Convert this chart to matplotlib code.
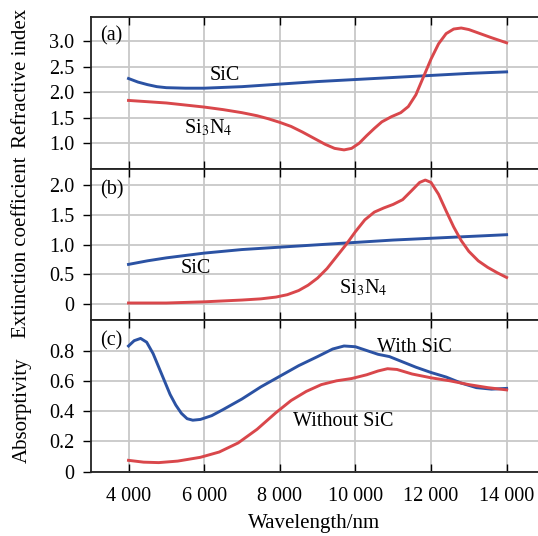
import numpy as np
import matplotlib.pyplot as plt
from matplotlib.ticker import FuncFormatter

plt.rcParams["font.family"] = ["Liberation Serif", "DejaVu Serif"]
plt.rcParams["mathtext.fontset"] = "stix"

# -----------------------------
# Data
# -----------------------------
# (a) refractive index
wl_n_sic = [4000, 4250, 4500, 4750, 5000, 5500, 6000, 7000, 8000, 9000, 10000,
            11000, 12000, 13000, 14000]
n_sic = [2.27, 2.20, 2.15, 2.11, 2.09, 2.08, 2.08, 2.11, 2.16, 2.21, 2.25,
         2.29, 2.33, 2.37, 2.40]

wl_n_sin = [4000, 5000, 6000, 6500, 7000, 7400, 7700, 8000, 8300, 8600, 8900, 9200,
            9450, 9700, 9900, 10100, 10300, 10500, 10700, 10950, 11200, 11400,
            11600, 11800, 12000, 12200, 12400, 12600, 12800, 13000, 13300, 13600,
            14000]
n_sin = [1.84, 1.79, 1.71, 1.66, 1.60, 1.54, 1.48, 1.41, 1.33, 1.22, 1.10, 0.98,
         0.90, 0.87, 0.90, 1.00, 1.15, 1.29, 1.42, 1.52, 1.60, 1.72,
         1.95, 2.30, 2.65, 2.95, 3.15, 3.24, 3.26, 3.23, 3.15, 3.07,
         2.97]

# (b) extinction coefficient
wl_k_sic = [4000, 4500, 5000, 5500, 6000, 7000, 8000, 9000, 10000, 11000, 12000,
            13000, 14000]
k_sic = [0.67, 0.73, 0.78, 0.82, 0.86, 0.92, 0.96, 1.00, 1.04, 1.08, 1.11,
         1.14, 1.17]

wl_k_sin = [4000, 5000, 6000, 7000, 7500, 7900, 8200, 8500, 8750, 9000, 9250, 9500,
            9750, 10000, 10250, 10500, 10750, 11000, 11250, 11500, 11700, 11850,
            12000, 12200, 12400, 12600, 12800, 13000, 13250, 13500, 13750, 14000]
k_sin = [0.02, 0.02, 0.04, 0.07, 0.09, 0.12, 0.16, 0.23, 0.32, 0.44, 0.60, 0.80,
         1.00, 1.22, 1.42, 1.55, 1.62, 1.68, 1.76, 1.92, 2.05, 2.09,
         2.05, 1.85, 1.57, 1.30, 1.07, 0.89, 0.73, 0.62, 0.53, 0.45]

# (c) absorptivity
wl_a_with = [4000, 4150, 4320, 4480, 4650, 4800, 4950, 5100, 5250, 5400, 5550,
             5700, 5900, 6200, 6500, 7000, 7500, 8000, 8500, 9000, 9400, 9700,
             10000, 10300, 10600, 10900, 11200, 11600, 12000, 12400, 12800,
             13200, 13600, 14000]
a_with = [0.83, 0.865, 0.88, 0.855, 0.78, 0.69, 0.60, 0.51, 0.44, 0.385, 0.35,
          0.34, 0.345, 0.37, 0.41, 0.48, 0.56, 0.63, 0.70, 0.76, 0.81, 0.83,
          0.825, 0.80, 0.775, 0.76, 0.73, 0.69, 0.655, 0.625, 0.585,
          0.555, 0.545, 0.55]

wl_a_without = [4000, 4400, 4800, 5300, 5900, 6400, 6900, 7400, 7900, 8300, 8700,
                9100, 9500, 9900, 10300, 10600, 10850, 11100, 11500, 12000, 12500,
                13000, 13500, 14000]
a_without = [0.075, 0.063, 0.06, 0.07, 0.095, 0.13, 0.19, 0.28, 0.39, 0.47, 0.53,
             0.575, 0.60, 0.615, 0.64, 0.665, 0.68, 0.675, 0.645, 0.62, 0.60,
             0.575, 0.555, 0.54]

x_ticks = [4000, 6000, 8000, 10000, 12000, 14000]

BLUE = "#2b52a3"
RED = "#d9474b"
FS = 14.5


def thousands(v, pos):
    return f"{int(v):,}".replace(",", " ")


def plain(v, pos):
    return "0" if abs(v) < 1e-9 else f"{v:.1f}"


def style_axes(ax, yticks):
    ax.set_xlim(3000, 14830)
    ax.set_xticks(x_ticks)
    ax.set_yticks(yticks)
    ax.yaxis.set_major_formatter(FuncFormatter(plain))
    ax.grid(True, color="#c8c8c8", linewidth=1.3)
    ax.set_axisbelow(True)
    ax.tick_params(axis="x", direction="in", top=True, bottom=True, length=6,
                   width=1.0, labelsize=FS, pad=11)
    ax.tick_params(axis="y", direction="out", length=6, width=1.0,
                   labelsize=FS, pad=6)
    for s in ["left", "top", "bottom"]:
        ax.spines[s].set_linewidth(1.3)
        ax.spines[s].set_color("#222222")
    ax.spines["right"].set_visible(False)


fig, axs = plt.subplots(3, 1, figsize=(5.38, 5.36), dpi=100, sharex=True)
fig.subplots_adjust(left=90.7 / 538, right=1.0, top=1 - 17.3 / 536,
                    bottom=1 - 471.7 / 536, hspace=0.0)

# (a)
ax = axs[0]
ax.plot(wl_n_sic, n_sic, color=BLUE, lw=2.1)
ax.plot(wl_n_sin, n_sin, color=RED, lw=2.1)
ax.set_ylim(0.5, 3.47)
style_axes(ax, [1.0, 1.5, 2.0, 2.5, 3.0])
ax.text(3250, 3.1, "(a)", fontsize=FS, va="center", ha="left")
ax.text(6560, 2.32, "SiC", fontsize=FS, va="center", ha="center")
ax.text(6110, 1.30, r"Si$_3$N$_4$", fontsize=FS, va="center", ha="center")

# (b)
ax = axs[1]
ax.plot(wl_k_sic, k_sic, color=BLUE, lw=2.1)
ax.plot(wl_k_sin, k_sin, color=RED, lw=2.1)
ax.set_ylim(-0.27, 2.28)
style_axes(ax, [0, 0.5, 1.0, 1.5, 2.0])
ax.text(3250, 1.93, "(b)", fontsize=FS, va="center", ha="left")
ax.text(5770, 0.60, "SiC", fontsize=FS, va="center", ha="center")
ax.text(10200, 0.27, r"Si$_3$N$_4$", fontsize=FS, va="center", ha="center")

# (c)
ax = axs[2]
ax.plot(wl_a_with, a_with, color=BLUE, lw=2.1)
ax.plot(wl_a_without, a_without, color=RED, lw=2.1)
ax.set_ylim(0, 1.0)
style_axes(ax, [0, 0.2, 0.4, 0.6, 0.8])
ax.xaxis.set_major_formatter(FuncFormatter(thousands))
ax.text(3250, 0.865, "(c)", fontsize=FS, va="center", ha="left")
ax.text(11570, 0.82, "With SiC", fontsize=FS, va="center", ha="center")
ax.text(9670, 0.33, "Without SiC", fontsize=FS, va="center", ha="center")
ax.set_xlabel("Wavelength/nm", fontsize=15, labelpad=6)

# y labels placed like the reference
fig.text(22 / 538, 1 - 78 / 536, "Refractive index", rotation=90,
         fontsize=15, ha="center", va="center")
fig.text(22 / 538, 1 - 247 / 536, "Extinction coefficient", rotation=90,
         fontsize=15, ha="center", va="center")
fig.text(22 / 538, 1 - 410 / 536, "Absorptivity", rotation=90,
         fontsize=15, ha="center", va="center")

fig.savefig("out.png", dpi=100)
